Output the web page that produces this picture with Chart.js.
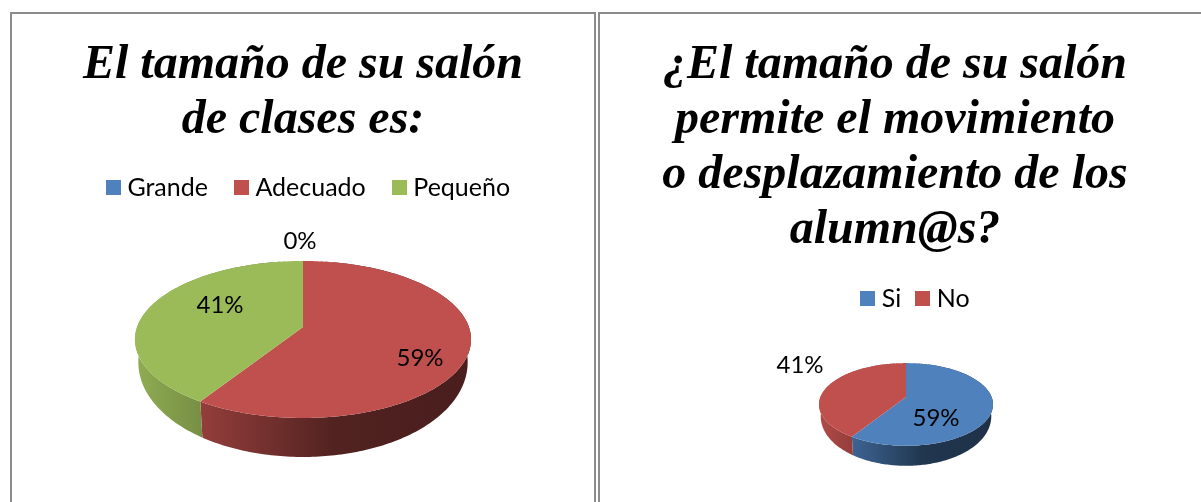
<!DOCTYPE html>
<html>
<head>
<meta charset="utf-8">
<script src="https://cdn.jsdelivr.net/npm/chart.js@4/dist/chart.umd.min.js"></script>
<style>
html, body { margin: 0; padding: 0; background: #fff; overflow: hidden; }
body { position: relative; width: 1201px; height: 502px; }
.cell { position: absolute; top: 12px; height: 490px; box-sizing: border-box; border-top: 2px solid #8c8c8c; border-left: 2px solid #8c8c8c; }
#cell-left { left: 10px; width: 586px; border-right: 2px solid #8c8c8c; }
#cell-right { left: 598px; width: 603px; }
canvas { position: absolute; left: 0; top: 0; }
</style>
</head>
<body>
<div class="cell" id="cell-left"><canvas id="size-chart" width="582" height="488"></canvas></div>
<div class="cell" id="cell-right"><canvas id="movement-chart" width="590" height="488"></canvas></div>
<script>
const sizeTitle = ['El tamaño de su salón', 'de clases es:'];
const sizeLabels = ['Grande', 'Adecuado', 'Pequeño'];
const sizeValues = [0, 59, 41];
const sizeColors = ['#4f81bd', '#c0504d', '#9bbb59'];

const movementTitle = ['¿El tamaño de su salón', 'permite el movimiento', 'o desplazamiento de los', 'alumn@s?'];
const movementLabels = ['Si', 'No'];
const movementValues = [59, 41];
const movementColors = ['#4f81bd', '#c0504d'];

const labelFont = '24px Lato';

// how dark the pie wall gets from its left edge to its right edge
const wallShades = [[0, 0.92], [0.2, 0.76], [0.6, 0.42], [1, 0.38]];

function shadeColor(hex, factor) {
    const n = parseInt(hex.slice(1), 16);
    const r = Math.round((n >> 16) * factor);
    const g = Math.round(((n >> 8) & 255) * factor);
    const b = Math.round((n & 255) * factor);
    return `rgb(${r},${g},${b})`;
}

function makeSwatch(color) {
    const swatch = document.createElement('canvas');
    swatch.width = 15;
    swatch.height = 15;
    const c = swatch.getContext('2d');
    c.fillStyle = color;
    c.fillRect(0, 0, 15, 15);
    return swatch;
}

// Tilted pie: takes the angles and radius from the library's arc elements and projects them
const pie3d = {
    id: 'pie3d',
    afterLayout(chart, args, opts) {
        chart.legend.left += opts.legendDx;
        chart.legend.right += opts.legendDx;
    },
    beforeDatasetsDraw(chart, args, opts) {
        const ctx = chart.ctx;
        const arcs = chart.getDatasetMeta(0).data;
        const colors = chart.data.datasets[0].backgroundColor;
        const values = chart.data.datasets[0].data;
        const cx = arcs[0].x + opts.dx;
        const radius = arcs[0].outerRadius;

        const project = (angle, wall) => {
            const sin = Math.sin(angle);
            const w = 1 - opts.k * sin;
            const xScale = wall ? opts.wallInset : 1;
            // the wall looks shallower at the sides than at the front
            const drop = wall ? opts.depth * (0.5 + 0.5 * sin) : 0;
            return [
                cx + radius * xScale * Math.cos(angle) / w,
                opts.apexY + opts.ry * sin / w + drop,
            ];
        };
        const rim = (arc, wall) => {
            const points = [];
            const steps = Math.max(2, Math.ceil((arc.endAngle - arc.startAngle) * 60));
            for (let i = 0; i <= steps; i++) {
                points.push(project(arc.startAngle + (arc.endAngle - arc.startAngle) * i / steps, wall));
            }
            return points;
        };
        const fillPath = (points, style) => {
            ctx.beginPath();
            points.forEach((p, i) => (i ? ctx.lineTo(p[0], p[1]) : ctx.moveTo(p[0], p[1])));
            ctx.closePath();
            ctx.fillStyle = style;
            ctx.fill();
        };

        ctx.save();
        arcs.forEach((arc, i) => {
            if (!values[i]) return;
            const gradient = ctx.createLinearGradient(cx - radius, 0, cx + radius, 0);
            wallShades.forEach(s => gradient.addColorStop(s[0], shadeColor(colors[i], s[1])));
            fillPath(rim(arc, false).concat(rim(arc, true).reverse()), gradient);
        });
        arcs.forEach((arc, i) => {
            if (!values[i]) return;
            fillPath([[cx, opts.apexY]].concat(rim(arc, false)), colors[i]);
        });

        ctx.fillStyle = '#000';
        ctx.font = labelFont;
        ctx.textAlign = 'center';
        ctx.textBaseline = 'middle';
        values.forEach((v, i) => {
            ctx.fillText(v + '%', cx + opts.labelOffsets[i][0], opts.apexY + opts.labelOffsets[i][1]);
        });
        ctx.restore();
        return false;
    },
};

function drawPie(canvasId, title, labels, values, colors, radius, titleBottom, legendGap, pie) {
    new Chart(document.getElementById(canvasId), {
        type: 'doughnut',
        data: {
            labels: labels,
            datasets: [{ data: values, backgroundColor: colors, borderWidth: 0, radius: radius }],
        },
        options: {
            responsive: false,
            animation: false,
            cutout: 0,
            plugins: {
                tooltip: { enabled: false },
                title: {
                    display: true,
                    text: title,
                    color: '#000',
                    font: { family: 'Liberation Serif', size: 48, weight: 'bold', style: 'italic', lineHeight: 55 / 48 },
                    padding: { top: 24, bottom: titleBottom },
                },
                legend: {
                    position: 'top',
                    labels: {
                        usePointStyle: true,
                        pointStyleWidth: 3,
                        boxHeight: 15,
                        padding: legendGap,
                        color: '#000',
                        font: { family: 'Lato', size: 25 },
                        generateLabels(chart) {
                            return Chart.overrides.doughnut.plugins.legend.labels.generateLabels(chart)
                                .map((item, i) => ({ ...item, pointStyle: makeSwatch(colors[i]) }));
                        },
                    },
                },
                pie3d: pie,
            },
        },
        plugins: [pie3d],
    });
}

drawPie('size-chart', sizeTitle, sizeLabels, sizeValues, sizeColors, 165.9, -5, 32, {
    dx: 0,
    legendDx: 8,
    apexY: 313,
    ry: 76.5,
    k: 0.159,
    depth: 39,
    wallInset: 0.98,
    labelOffsets: [[-3, -86], [117, 31], [-83, -22]],
});

drawPie('movement-chart', movementTitle, movementLabels, movementValues, movementColors, 85.6, 8, 20, {
    dx: 11,
    legendDx: 23,
    apexY: 383,
    ry: 40,
    k: 0.18,
    depth: 20,
    wallInset: 0.98,
    labelOffsets: [[30, 21], [-106, -32]],
});
</script>
</body>
</html>
